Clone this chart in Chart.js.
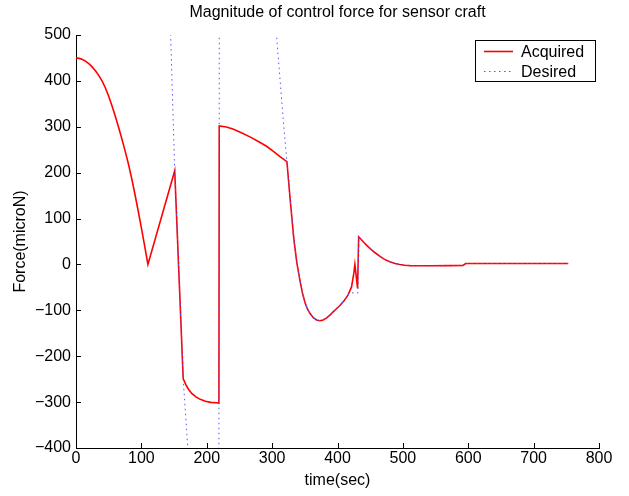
<!DOCTYPE html>
<html>
<head>
<meta charset="utf-8">
<script src="https://cdn.jsdelivr.net/npm/chart.js@4.4.1/dist/chart.umd.min.js"></script>
<style>
  html, body { margin: 0; padding: 0; background: #fff; }
  canvas { display: block; }
</style>
</head>
<body>
<canvas id="forceChart" width="629" height="496"></canvas>
<script>
const titleText = 'Magnitude of control force for sensor craft'
const xTitle = 'time(sec)'
const yTitle = 'Force(microN)'
const xMin = 0, xMax = 800, xStep = 100
const yMin = -400, yMax = 500, yStep = 100

// Acquired force (red solid)
const acquiredTime = [0, 5, 10, 15, 20, 25, 30, 35, 40, 45, 50, 55, 60, 65, 70, 75, 80, 85, 90, 95, 100, 105, 110,
  151, 164, 168, 172, 177, 183, 190, 198, 206, 214, 218.6,
  219.1, 230, 240, 253, 266, 279, 292, 302, 312, 322.6,
  325, 327.7, 330, 332.8, 335, 337.9, 340, 343, 346.5, 350.5, 354, 358, 363, 368, 373, 378, 383, 388, 393, 398, 404, 410, 416,
  421.5, 425, 426.6, 430.7, 432.4,
  436, 440, 445, 450, 457, 465, 472, 480, 488, 495, 503, 511, 541, 572, 592, 596, 620, 680, 753]
const acquiredForce = [450, 449, 446.5, 442.5, 437, 430, 421.5, 411.5, 399.5, 384.5, 366.5, 346, 323.5, 299.5, 274.5, 248, 220, 188.5, 154, 117.5, 79.5, 40.5, 0,
  204, -249, -262, -272, -281, -288, -294, -298, -300.5, -301.5, -302,
  302, 299.5, 295, 287, 278, 268, 257, 246.5, 235, 224,
  185, 140, 105, 61, 35, 3, -14, -38, -63, -84, -97, -107, -116, -121, -122.5, -121, -117, -111, -104, -97, -89, -79, -67,
  -49, -19, 0, -52, 60,
  55, 48.5, 41, 34.5, 26, 17.5, 11, 6, 2, 0, -1.7, -2.5, -3, -2.5, -2, 2, 2, 2, 2]

// Desired force (blue dotted), runs off the plot where the acquired force saturates
const desiredTime = [142.7, 151, 164, 171, 175, 218.5, 219.3, 300, 317, 322.6,
  325, 327.7, 330, 332.8, 335, 337.9, 340, 343, 346.5, 350.5, 354, 358, 363, 368, 373, 378, 383, 388, 393, 398, 404, 410, 416,
  420, 431.5, 432.4,
  436, 440, 445, 450, 457, 465, 472, 480, 488, 495, 503, 511, 541, 572, 592, 596, 620, 680, 753]
const desiredForce = [600, 204, -249, -400, -480, -480, 620, 620, 315, 224,
  185, 140, 105, 61, 35, 3, -14, -38, -63, -84, -97, -107, -116, -121, -122.5, -121, -117, -111, -104, -97, -89, -79, -67,
  -62, -62, 60,
  55, 48.5, 41, 34.5, 26, 17.5, 11, 6, 2, 0, -1.7, -2.5, -3, -2.5, -2, 2, 2, 2, 2]

const toPoints = (xs, ys) => xs.map((x, i) => ({ x: x, y: ys[i] }))
const fontFamily = '"Liberation Sans", Arial, Helvetica, sans-serif'
const fontSize = 16

const matlabLook = {
  id: 'matlabLook',
  afterDraw(chart) {
    const ctx = chart.ctx
    const a = chart.chartArea
    const xs = chart.scales.x
    const ys = chart.scales.y
    ctx.save()
    // inward tick marks
    ctx.strokeStyle = '#000'
    ctx.lineWidth = 1
    ctx.beginPath()
    xs.ticks.forEach(t => {
      const px = Math.round(xs.getPixelForValue(t.value)) + 0.5
      ctx.moveTo(px, a.bottom)
      ctx.lineTo(px, a.bottom - 5)
    })
    ys.ticks.forEach(t => {
      const py = Math.round(ys.getPixelForValue(t.value)) + 0.5
      ctx.moveTo(a.left, py)
      ctx.lineTo(a.left + 5, py)
    })
    ctx.stroke()

    // title
    ctx.fillStyle = '#000'
    ctx.font = fontSize + 'px ' + fontFamily
    ctx.textAlign = 'center'
    ctx.textBaseline = 'middle'
    ctx.fillText(titleText, (a.left + a.right) / 2, 13)

    // legend box in the upper right corner
    const bx = 475.5, by = 40.5, bw = 120, bh = 41
    ctx.fillStyle = '#fff'
    ctx.fillRect(bx, by, bw, bh)
    ctx.strokeStyle = '#000'
    ctx.lineWidth = 1
    ctx.strokeRect(bx, by, bw, bh)
    const items = [chart.data.datasets[0], chart.data.datasets[1]]
    items.forEach((ds, i) => {
      const ly = 51.5 + i * 20
      ctx.beginPath()
      ctx.strokeStyle = ds.borderColor
      ctx.lineWidth = ds.borderWidth
      ctx.setLineDash(ds.borderDash || [])
      ctx.moveTo(484, ly)
      ctx.lineTo(513, ly)
      ctx.stroke()
      ctx.setLineDash([])
      ctx.fillStyle = '#000'
      ctx.textAlign = 'left'
      ctx.fillText(ds.label, 521, ly + 1)
    })
    ctx.restore()
  }
}

new Chart(document.getElementById('forceChart'), {
  type: 'line',
  data: {
    datasets: [{
      label: 'Acquired',
      data: toPoints(acquiredTime, acquiredForce),
      borderColor: 'rgb(255, 0, 0)',
      borderWidth: 1.6,
      pointRadius: 0,
      fill: false,
      tension: 0,
      clip: 0,
      order: 2
    }, {
      label: 'Desired',
      data: toPoints(desiredTime, desiredForce),
      borderColor: 'rgb(85, 85, 255)',
      borderWidth: 1,
      borderDash: [1.5, 3.5],
      pointRadius: 0,
      fill: false,
      tension: 0,
      clip: 0,
      order: 1
    }]
  },
  options: {
    responsive: false,
    animation: false,
    layout: { padding: { top: 35, right: 30, left: 0, bottom: 0 } },
    plugins: {
      legend: { display: false },
      tooltip: { enabled: false },
      title: { display: false }
    },
    scales: {
      x: {
        type: 'linear',
        min: xMin,
        max: xMax,
        ticks: {
          stepSize: xStep,
          color: '#000',
          padding: 1,
          maxRotation: 0,
          font: { family: fontFamily, size: fontSize }
        },
        grid: { display: false, drawTicks: false },
        border: { display: true, color: '#000', width: 1 },
        title: {
          display: true,
          text: xTitle,
          color: '#000',
          padding: { top: 0, bottom: 6 },
          font: { family: fontFamily, size: fontSize }
        },
        afterFit: scale => { scale.height = 48 }
      },
      y: {
        type: 'linear',
        min: yMin,
        max: yMax,
        ticks: {
          stepSize: yStep,
          color: '#000',
          padding: 5,
          font: { family: fontFamily, size: fontSize },
          callback: v => String(v).replace('-', '\u2212')
        },
        grid: { display: false, drawTicks: false },
        border: { display: true, color: '#000', width: 1 },
        title: {
          display: true,
          text: yTitle,
          color: '#000',
          padding: { top: 11, bottom: 0 },
          font: { family: fontFamily, size: fontSize }
        },
        afterFit: scale => { scale.width = 76 }
      }
    }
  },
  plugins: [matlabLook]
})
</script>
</body>
</html>
